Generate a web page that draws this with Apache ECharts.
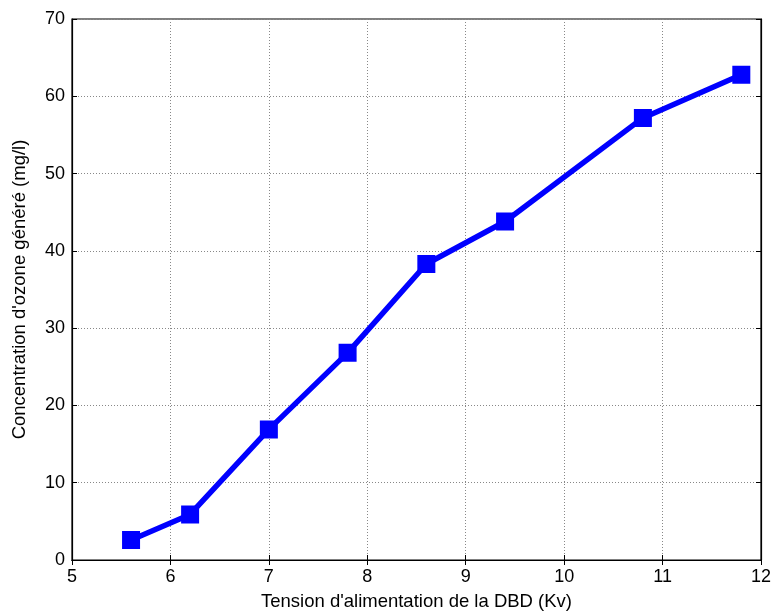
<!DOCTYPE html>
<html><head><meta charset="utf-8">
<script src="https://cdn.jsdelivr.net/npm/echarts@6/dist/echarts.min.js"></script>
<style>html,body{margin:0;padding:0;background:#fff}#c{width:774px;height:616px}</style>
</head><body><div id="c"></div>
<script>
var xValues = [5.6, 6.2, 7.0, 7.8, 8.6, 9.4, 10.8, 11.8];
var yValues = [2.6, 5.9, 16.9, 26.8, 38.3, 43.8, 57.2, 62.8];
var xName = "Tension d'alimentation de la DBD (Kv)";
var yName = "Concentration d'ozone généré (mg/l)";

var chart = echarts.init(document.getElementById('c'));
var font = 'Liberation Sans, Arial, sans-serif';
var data = xValues.map(function(x, i){ return [x, yValues[i]]; });
chart.setOption({
  animation: false,
  grid: {left: 72, right: 13, top: 19, bottom: 56, show: true, borderColor: '#000', borderWidth: 1.2,
         containLabel: false, outerBoundsMode: 'none'},
  xAxis: [{
    type: 'value', min: 5, max: 12, interval: 1,
    name: xName, nameLocation: 'middle', nameGap: 32,
    nameTextStyle: {fontFamily: font, fontSize: 18.5, color: '#000'},
    axisLine: {show: true, onZero: false, lineStyle: {color: '#000', width: 1.2}},
    axisTick: {show: true, inside: true, length: 5, lineStyle: {color: '#000'}},
    axisLabel: {fontFamily: font, fontSize: 18, color: '#000', margin: 8},
    splitLine: {show: true, lineStyle: {color: '#888', type: [1, 2], width: 1}}
  }, {
    type: 'value', min: 5, max: 12, interval: 1, position: 'top',
    axisLine: {show: true, lineStyle: {color: '#000', width: 1.2}},
    axisTick: {show: true, inside: true, length: 5, lineStyle: {color: '#000'}},
    axisLabel: {show: false}, splitLine: {show: false}
  }],
  yAxis: [{
    type: 'value', min: 0, max: 70, interval: 10,
    name: yName, nameLocation: 'middle', nameGap: 43,
    nameTextStyle: {fontFamily: font, fontSize: 18.5, color: '#000'},
    axisLine: {show: true, lineStyle: {color: '#000', width: 1.2}},
    axisTick: {show: true, inside: true, length: 5, lineStyle: {color: '#000'}},
    axisLabel: {fontFamily: font, fontSize: 18, color: '#000', margin: 7},
    splitLine: {show: true, lineStyle: {color: '#888', type: [1, 2], width: 1}}
  }, {
    type: 'value', min: 0, max: 70, interval: 10, position: 'right',
    axisLine: {show: true, lineStyle: {color: '#000', width: 1.2}},
    axisTick: {show: true, inside: true, length: 5, lineStyle: {color: '#000'}},
    axisLabel: {show: false}, splitLine: {show: false}
  }],
  series: [{
    type: 'line', data: data,
    lineStyle: {color: '#0000ff', width: 5.5},
    symbol: 'rect', symbolSize: 15,
    itemStyle: {color: '#0000ff', borderColor: '#0000ff', borderWidth: 3},
    z: 5
  }]
});
</script></body></html>
